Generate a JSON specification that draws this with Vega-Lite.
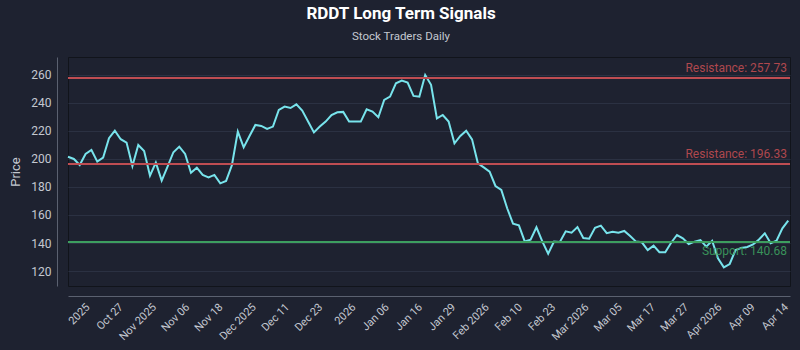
{
  "$schema": "https://vega.github.io/schema/vega-lite/v6.json",
  "autosize": "none",
  "width": 722,
  "height": 229,
  "padding": {"left": 68, "top": 57, "right": 10, "bottom": 64},
  "background": "#1e2230",
  "title": {
    "text": "RDDT Long Term Signals",
    "subtitle": "Stock Traders Daily",
    "anchor": "middle",
    "frame": "bounds",
    "color": "#ffffff",
    "fontSize": 17,
    "fontWeight": "bold",
    "font": "Roboto",
    "subtitleFont": "Roboto",
    "subtitleColor": "#c4c8d0",
    "subtitleFontSize": 11.5,
    "subtitlePadding": 8,
    "offset": 14
  },
  "config": {
    "font": "Roboto",
    "view": {"stroke": "#11141b", "strokeWidth": 1, "fill": "#1e2230"},
    "axis": {
      "domainColor": "#5b6170",
      "labelColor": "#c4c8d0",
      "titleColor": "#c4c8d0",
      "ticks": false,
      "labelFont": "Roboto",
      "titleFont": "Roboto",
      "labelOverlap": false
    }
  },
  "datasets": {
    "prices": [
      {"i": 0, "price": 201.6}, {"i": 1, "price": 200}, {"i": 2, "price": 195.7}, {"i": 3, "price": 203.6},
      {"i": 4, "price": 206.4}, {"i": 5, "price": 198.1}, {"i": 6, "price": 201}, {"i": 7, "price": 214.8},
      {"i": 8, "price": 220.2}, {"i": 9, "price": 214.1}, {"i": 10, "price": 211.7}, {"i": 11, "price": 195},
      {"i": 12, "price": 210}, {"i": 13, "price": 205.7}, {"i": 14, "price": 188.1}, {"i": 15, "price": 197.4},
      {"i": 16, "price": 184.5}, {"i": 17, "price": 194.5}, {"i": 18, "price": 204.8}, {"i": 19, "price": 208.8},
      {"i": 20, "price": 203.6}, {"i": 21, "price": 190.2}, {"i": 22, "price": 193.8}, {"i": 23, "price": 188.6},
      {"i": 24, "price": 186.9}, {"i": 25, "price": 188.6}, {"i": 26, "price": 182.6}, {"i": 27, "price": 184.3},
      {"i": 28, "price": 195.7}, {"i": 29, "price": 219.5}, {"i": 30, "price": 208.3}, {"i": 31, "price": 216.4},
      {"i": 32, "price": 224.3}, {"i": 33, "price": 223.6}, {"i": 34, "price": 221.4}, {"i": 35, "price": 223.1},
      {"i": 36, "price": 235}, {"i": 37, "price": 237.4}, {"i": 38, "price": 236.4}, {"i": 39, "price": 239},
      {"i": 40, "price": 234.5}, {"i": 41, "price": 226.7}, {"i": 42, "price": 219}, {"i": 43, "price": 223.1},
      {"i": 44, "price": 226.7}, {"i": 45, "price": 231.4}, {"i": 46, "price": 233.3}, {"i": 47, "price": 233.6},
      {"i": 48, "price": 226.7}, {"i": 49, "price": 226.7}, {"i": 50, "price": 226.7}, {"i": 51, "price": 235.5},
      {"i": 52, "price": 233.8}, {"i": 53, "price": 229.8}, {"i": 54, "price": 242.1}, {"i": 55, "price": 244.5},
      {"i": 56, "price": 254}, {"i": 57, "price": 255.9}, {"i": 58, "price": 254.5}, {"i": 59, "price": 245},
      {"i": 60, "price": 244.5}, {"i": 61, "price": 260}, {"i": 62, "price": 253}, {"i": 63, "price": 229},
      {"i": 64, "price": 231.4}, {"i": 65, "price": 226.7}, {"i": 66, "price": 211.2}, {"i": 67, "price": 216.4},
      {"i": 68, "price": 220.2}, {"i": 69, "price": 214}, {"i": 70, "price": 196.9}, {"i": 71, "price": 194},
      {"i": 72, "price": 191}, {"i": 73, "price": 180.7}, {"i": 74, "price": 177.9}, {"i": 75, "price": 164.8},
      {"i": 76, "price": 153.8}, {"i": 77, "price": 152.6}, {"i": 78, "price": 141.1}, {"i": 79, "price": 142.3},
      {"i": 80, "price": 151.2}, {"i": 81, "price": 141.1}, {"i": 82, "price": 132.4}, {"i": 83, "price": 141},
      {"i": 84, "price": 140.8}, {"i": 85, "price": 148.3}, {"i": 86, "price": 147.4}, {"i": 87, "price": 151.4},
      {"i": 88, "price": 143.6}, {"i": 89, "price": 143.1}, {"i": 90, "price": 150.8}, {"i": 91, "price": 152.4},
      {"i": 92, "price": 147}, {"i": 93, "price": 148}, {"i": 94, "price": 147.4}, {"i": 95, "price": 148.6},
      {"i": 96, "price": 145}, {"i": 97, "price": 141}, {"i": 98, "price": 140.5}, {"i": 99, "price": 135},
      {"i": 100, "price": 138.1}, {"i": 101, "price": 133.4}, {"i": 102, "price": 133.4}, {"i": 103, "price": 140.2},
      {"i": 104, "price": 145.7}, {"i": 105, "price": 143.3}, {"i": 106, "price": 139.3}, {"i": 107, "price": 141},
      {"i": 108, "price": 142.1}, {"i": 109, "price": 137.4}, {"i": 110, "price": 141.6}, {"i": 111, "price": 129.1},
      {"i": 112, "price": 122.6}, {"i": 113, "price": 125}, {"i": 114, "price": 135}, {"i": 115, "price": 136.5},
      {"i": 116, "price": 137.2}, {"i": 117, "price": 139}, {"i": 118, "price": 142.5}, {"i": 119, "price": 146.9},
      {"i": 120, "price": 139.8}, {"i": 121, "price": 141.6}, {"i": 122, "price": 150.5}, {"i": 123, "price": 156}
    ],
    "levels": [
      {"type": "Resistance", "level": 257.73, "label": "Resistance: 257.73"},
      {"type": "Resistance", "level": 196.33, "label": "Resistance: 196.33"},
      {"type": "Support", "level": 140.68, "label": "Support: 140.68"}
    ]
  },
  "layer": [
    {
      "data": {"name": "prices"},
      "mark": {"type": "line", "color": "#78e4ec", "strokeWidth": 2},
      "encoding": {
        "x": {
          "field": "i",
          "type": "quantitative",
          "scale": {"domain": [0, 123.3], "nice": false, "zero": false},
          "axis": {
            "title": null,
            "grid": false,
            "offset": 10,
            "labelAngle": -45,
            "labelFontSize": 11,
            "labelPadding": 5,
            "labelOverlap": false,
            "labelFlush": false,
            "values": [2.65, 8.33, 14.01, 19.69, 25.37, 31.05, 36.73, 42.41, 48.09, 53.77, 59.45, 65.13, 70.81, 76.49, 82.17, 87.85, 93.53, 99.21, 104.89, 110.57, 116.25, 121.93],
            "labelExpr": "['2025','Oct 27','Nov 2025','Nov 06','Nov 18','Dec 2025','Dec 11','Dec 23','2026','Jan 06','Jan 16','Jan 29','Feb 2026','Feb 10','Feb 23','Mar 2026','Mar 05','Mar 17','Mar 27','Apr 2026','Apr 09','Apr 14'][round((datum.value-2.65)/5.68)]"
          }
        },
        "y": {
          "field": "price",
          "type": "quantitative",
          "scale": {"domain": [109.3, 272.8], "nice": false, "zero": false},
          "axis": {
            "title": "Price",
            "titleFontSize": 13,
            "titleFontWeight": "normal",
            "titlePadding": 8,
            "offset": 11,
            "grid": true,
            "gridColor": "#2b3142",
            "labelFontSize": 12,
            "labelPadding": 6,
            "labelOverlap": false,
            "values": [120, 140, 160, 180, 200, 220, 240, 260]
          }
        }
      }
    },
    {
      "data": {"name": "levels"},
      "mark": {"type": "rule", "strokeWidth": 2},
      "encoding": {
        "y": {
          "field": "level",
          "type": "quantitative",
          "axis": {
            "title": "Price",
            "titleFontSize": 13,
            "titleFontWeight": "normal",
            "titlePadding": 8,
            "offset": 11,
            "grid": true,
            "gridColor": "#2b3142",
            "labelFontSize": 12,
            "labelPadding": 6,
            "labelOverlap": false,
            "values": [120, 140, 160, 180, 200, 220, 240, 260]
          }
        },
        "color": {
          "field": "type",
          "type": "nominal",
          "scale": {"domain": ["Resistance", "Support"], "range": ["#bf4d52", "#3d9e5f"]},
          "legend": null
        }
      }
    },
    {
      "data": {"name": "levels"},
      "transform": [{"filter": "datum.type === 'Resistance'"}],
      "mark": {"type": "text", "align": "right", "baseline": "bottom", "dx": -3, "dy": -3, "fontSize": 12, "opacity": 0.9},
      "encoding": {
        "x": {
          "datum": 123.3,
          "type": "quantitative",
          "axis": {
            "title": null,
            "grid": false,
            "offset": 10,
            "labelAngle": -45,
            "labelFontSize": 11,
            "labelPadding": 5,
            "labelOverlap": false,
            "labelFlush": false,
            "values": [2.65, 8.33, 14.01, 19.69, 25.37, 31.05, 36.73, 42.41, 48.09, 53.77, 59.45, 65.13, 70.81, 76.49, 82.17, 87.85, 93.53, 99.21, 104.89, 110.57, 116.25, 121.93],
            "labelExpr": "['2025','Oct 27','Nov 2025','Nov 06','Nov 18','Dec 2025','Dec 11','Dec 23','2026','Jan 06','Jan 16','Jan 29','Feb 2026','Feb 10','Feb 23','Mar 2026','Mar 05','Mar 17','Mar 27','Apr 2026','Apr 09','Apr 14'][round((datum.value-2.65)/5.68)]"
          }
        },
        "y": {
          "field": "level",
          "type": "quantitative",
          "axis": {
            "title": "Price",
            "titleFontSize": 13,
            "titleFontWeight": "normal",
            "titlePadding": 8,
            "offset": 11,
            "grid": true,
            "gridColor": "#2b3142",
            "labelFontSize": 12,
            "labelPadding": 6,
            "labelOverlap": false,
            "values": [120, 140, 160, 180, 200, 220, 240, 260]
          }
        },
        "text": {"field": "label"},
        "color": {"field": "type", "type": "nominal", "legend": null}
      }
    },
    {
      "data": {"name": "levels"},
      "transform": [{"filter": "datum.type === 'Support'"}],
      "mark": {"type": "text", "align": "right", "baseline": "top", "dx": -3, "dy": 4, "fontSize": 12, "opacity": 0.9},
      "encoding": {
        "x": {
          "datum": 123.3,
          "type": "quantitative",
          "axis": {
            "title": null,
            "grid": false,
            "offset": 10,
            "labelAngle": -45,
            "labelFontSize": 11,
            "labelPadding": 5,
            "labelOverlap": false,
            "labelFlush": false,
            "values": [2.65, 8.33, 14.01, 19.69, 25.37, 31.05, 36.73, 42.41, 48.09, 53.77, 59.45, 65.13, 70.81, 76.49, 82.17, 87.85, 93.53, 99.21, 104.89, 110.57, 116.25, 121.93],
            "labelExpr": "['2025','Oct 27','Nov 2025','Nov 06','Nov 18','Dec 2025','Dec 11','Dec 23','2026','Jan 06','Jan 16','Jan 29','Feb 2026','Feb 10','Feb 23','Mar 2026','Mar 05','Mar 17','Mar 27','Apr 2026','Apr 09','Apr 14'][round((datum.value-2.65)/5.68)]"
          }
        },
        "y": {
          "field": "level",
          "type": "quantitative",
          "axis": {
            "title": "Price",
            "titleFontSize": 13,
            "titleFontWeight": "normal",
            "titlePadding": 8,
            "offset": 11,
            "grid": true,
            "gridColor": "#2b3142",
            "labelFontSize": 12,
            "labelPadding": 6,
            "labelOverlap": false,
            "values": [120, 140, 160, 180, 200, 220, 240, 260]
          }
        },
        "text": {"field": "label"},
        "color": {"field": "type", "type": "nominal", "legend": null}
      }
    }
  ]
}
